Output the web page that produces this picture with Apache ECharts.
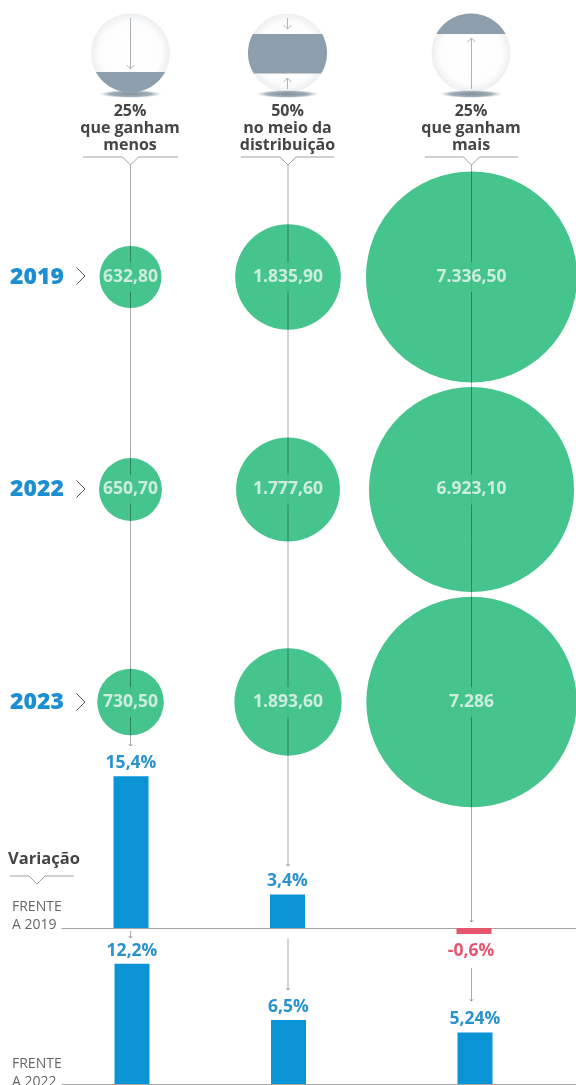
<!DOCTYPE html>
<html>
<head>
<meta charset="utf-8">
<style>html,body{margin:0;padding:0;background:#fff}#c{width:576px;height:1085px}</style>
<script src="https://cdn.jsdelivr.net/npm/echarts@6/dist/echarts.min.js"></script>
</head>
<body>
<div id="c"></div>
<script>
// ---- data ----
const years = ['2019', '2022', '2023'];
const lowest = [632.8, 650.7, 730.5];
const middle = [1835.9, 1777.6, 1893.6];
const highest = [7336.5, 6923.1, 7286];
const lowestLabels = ['632,80', '650,70', '730,50'];
const middleLabels = ['1.835,90', '1.777,60', '1.893,60'];
const highestLabels = ['7.336,50', '6.923,10', '7.286'];
const groupHeads = [['25%', 'que ganham', 'menos'], ['50%', 'no meio da', 'distribuição'], ['25%', 'que ganham', 'mais']];
const vs2019 = [15.4, 3.4, -0.6];
const vs2019Labels = ['15,4%', '3,4%', '-0,6%'];
const vs2022 = [12.2, 6.5, 5.24];
const vs2022Labels = ['12,2%', '6,5%', '5,24%'];

// ---- layout ----
const FONT = '"Open Sans", sans-serif';
const GREEN = '#45c48d', BLUE = '#0a94d6', BLUETXT = '#2a92cc', RED = '#e5566e', SLATE = '#8d9fad';
const colX = [130.5, 288, 471.5];
const bars19X = [131, 287.5, 474];
const bars22X = [132, 288.5, 475];
const CONN = 'rgba(0,0,0,0.33)';
const sizeK = 62 / Math.sqrt(632.8);

const columns = [[lowest, lowestLabels], [middle, middleLabels], [highest, highestLabels]];
const bubbleData = [];
columns.forEach(([vals, labs], c) => vals.forEach((v, r) => bubbleData.push({ value: [colX[c], years[r], v], text: labs[r] })));

const g = [];
function line(pts, color, w, z) {
  g.push({ type: 'polyline', z: z || 4, silent: true, shape: { points: pts }, style: { stroke: color, lineWidth: w || 1, fill: null } });
}
function arrowLine(x, y0, y1, color, z, head) {
  line([[x, y0], [x, y1]], color, 1, z);
  const d = y1 > y0 ? -1 : 1, h = head || 3;
  line([[x - h, y1 + d * h], [x, y1], [x + h, y1 + d * h]], color, 1, z);
}
function text(x, y, t, size, weight, color, align) {
  g.push({ type: 'text', z: 8, silent: true, x, y, style: { text: t, fontFamily: FONT, fontSize: size, fontWeight: weight, fill: color, textAlign: align || 'center', textVerticalAlign: 'middle' } });
}
function segment(cx, cy, r, y0, y1) {
  const pts = [], n = 40;
  const a0 = Math.asin(Math.max(-1, (y0 - cy) / r)), a1 = Math.asin(Math.min(1, (y1 - cy) / r));
  for (let i = 0; i <= n; i++) { const a = a0 + (a1 - a0) * i / n; pts.push([cx + r * Math.cos(a), cy + r * Math.sin(a)]); }
  for (let i = n; i >= 0; i--) { const a = a0 + (a1 - a0) * i / n; pts.push([cx - r * Math.cos(a), cy + r * Math.sin(a)]); }
  return pts;
}
const icons = [[130.5, 72, 92.5], [287.5, 34, 73.5], [471, 13.5, 34]];
icons.forEach(([cx, y0, y1]) => {
  g.push({ type: 'circle', z: 2, silent: true, shape: { cx, cy: 53, r: 39.5 },
    style: { fill: { type: 'radial', x: .5, y: .5, r: .5, colorStops: [{ offset: 0, color: '#ffffff' }, { offset: .78, color: '#fdfdfd' }, { offset: 1, color: '#eceef1' }] } } });
  g.push({ type: 'circle', z: 2, silent: true, x: cx, y: 94, scaleY: 0.125, shape: { cx: 0, cy: 0, r: 32 },
    style: { fill: { type: 'radial', x: .5, y: .5, r: .5, colorStops: [{ offset: 0, color: '#7f8e99' }, { offset: .65, color: '#a3afb8' }, { offset: 1, color: 'rgba(210,216,221,0)' }] } } });
  g.push({ type: 'polygon', z: 3, silent: true, shape: { points: segment(cx, 53, 39.5, y0, y1) }, style: { fill: SLATE } });
});
arrowLine(130.5, 18, 69, '#aab3ba', 4, 4);
arrowLine(287.5, 18, 29, '#aab3ba', 4, 4);
arrowLine(287.5, 89, 78, '#aab3ba', 4, 4);
arrowLine(471.5, 89, 38, '#aab3ba', 4, 4);

groupHeads.forEach((h, i) => {
  const cx = [130, 287.5, 471][i];
  h.forEach((t, k) => text(cx, 111 + k * 17, t, 16, 700, '#454545'));
});
[[83, 178, 130.5], [241, 334, 288], [425, 518, 471.5]].forEach(([a, b, m]) =>
  line([[a, 157], [m - 8, 157], [m, 165], [m + 8, 157], [b, 157]], '#a0a0a0', 1, 4));
// connectors
arrowLine(colX[0], 165, 746, CONN, 4, 2);
arrowLine(colX[0], 931, 938, CONN, 4, 2);
arrowLine(colX[1], 165, 866, CONN, 4, 2);
arrowLine(colX[1], 939, 990, CONN, 4, 2);
arrowLine(colX[2], 165, 922, CONN, 4, 2);
arrowLine(colX[2], 968, 1001, CONN, 4, 2);
// chevrons
[276, 489, 702].forEach(y => line([[76.5, y - 8.5], [85, y], [76.5, y + 8.5]], '#555', 1, 4));
// side texts
text(8, 859, 'Variação', 16.5, 700, '#454545', 'left');
line([[10, 876], [29, 876], [37, 884], [45, 876], [74, 876]], '#a0a0a0', 1, 4);
text(12, 907, 'FRENTE', 14, 400, '#666', 'left');
text(12, 925, 'A 2019', 14, 400, '#666', 'left');
text(12, 1064, 'FRENTE', 14, 400, '#666', 'left');
text(12, 1082, 'A 2022', 14, 400, '#666', 'left');

function barSeries(idx, xs, vals, labs) {
  return {
    type: 'bar', xAxisIndex: idx, yAxisIndex: idx, barWidth: 35, z: 5,
    data: vals.map((v, i) => ({
      value: [xs[i], v],
      itemStyle: { color: v < 0 ? RED : BLUE },
      label: {
        show: true, position: v < 0 ? 'bottom' : 'top', distance: v < 0 ? 8 : 4,
        offset: v < 0 ? [-3, 0] : [0, 0],
        formatter: labs[i], fontFamily: FONT, fontSize: 17.5, fontWeight: 700,
        color: v < 0 ? RED : BLUETXT
      }
    }))
  };
}
const hiddenX = (gi) => ({ type: 'value', gridIndex: gi, min: 0, max: 576, show: false });
const barX = (gi) => ({
  type: 'value', gridIndex: gi, min: 62, max: 576, axisLabel: { show: false }, axisTick: { show: false }, splitLine: { show: false },
  axisLine: { show: true, onZero: true, lineStyle: { color: '#a5a5a5', width: 1 } }
});
const barY = (gi, min, max) => ({ type: 'value', gridIndex: gi, min, max, show: false });
const PX = 9.85;

const chart = echarts.init(document.getElementById('c'), null, { renderer: 'canvas' });
chart.setOption({
  animation: false,
  backgroundColor: '#fff',
  grid: [
    { left: 0, width: 576, top: 170.75, height: 637.5 },
    { left: 62, width: 514, top: 928 - 16 * PX, height: 17 * PX },
    { left: 62, width: 514, top: 1084 - 13 * PX, height: 13 * PX }
  ],
  xAxis: [hiddenX(0), barX(1), barX(2)],
  yAxis: [
    {
      type: 'category', gridIndex: 0, inverse: true, data: years,
      axisLine: { show: false }, axisTick: { show: false }, splitLine: { show: false },
      axisLabel: { inside: true, margin: 10, fontFamily: FONT, fontSize: 23, fontWeight: 800, color: '#1c8fd2', padding: [6, 0, 0, 0] }
    },
    barY(1, -1, 16),
    barY(2, 0, 13)
  ],
  series: [
    {
      type: 'scatter', z: 2, xAxisIndex: 0, yAxisIndex: 0, silent: true,
      data: bubbleData.map(d => d.value),
      encode: { x: 0, y: 1 },
      symbolSize: v => sizeK * Math.sqrt(v[2]),
      itemStyle: { color: GREEN, opacity: 1 }
    },
    {
      type: 'scatter', z: 6, xAxisIndex: 0, yAxisIndex: 0, silent: true,
      data: bubbleData.map(d => ({ value: d.value, text: d.text })),
      encode: { x: 0, y: 1 },
      symbolSize: 1,
      itemStyle: { color: 'rgba(0,0,0,0)' },
      label: {
        show: true, position: 'inside', fontFamily: FONT, fontSize: 17.5, fontWeight: 700, color: '#edf8f3',
        backgroundColor: GREEN, padding: [6, 0],
        formatter: p => p.data.text
      }
    },
    barSeries(1, bars19X, vs2019, vs2019Labels),
    barSeries(2, bars22X, vs2022, vs2022Labels)
  ],
  graphic: { elements: g }
});
</script>
</body>
</html>
